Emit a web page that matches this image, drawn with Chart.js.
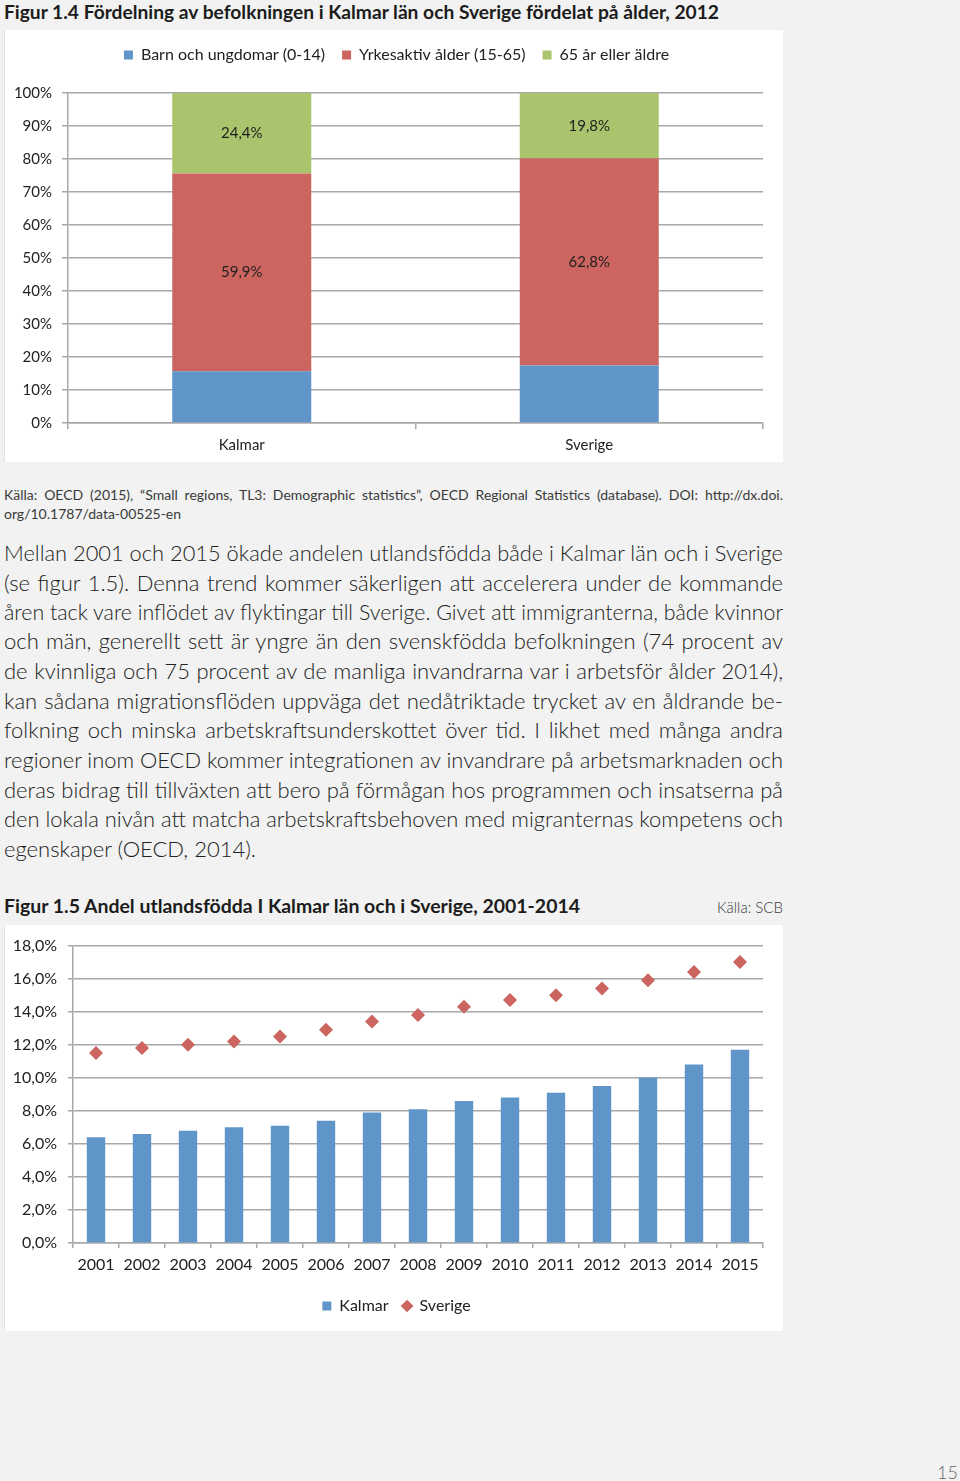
<!DOCTYPE html>
<html lang="sv">
<head>
<meta charset="utf-8">
<title>Figur 1.4 och 1.5 – Kalmar län</title>
<script src="https://cdn.jsdelivr.net/npm/chart.js@4.4.1/dist/chart.umd.min.js"></script>
<style>
  html, body { margin: 0; padding: 0; }
  body {
    width: 960px; height: 1481px; position: relative; overflow: hidden;
    background: #f1f2f1; color: #222;
    font-family: Lato, "Open Sans", sans-serif;
  }
  .abs { position: absolute; }
  .fit { white-space: nowrap; display: inline-block; transform-origin: 0 50%; }
  .title { left: 4px; font-weight: 700; font-size: 19px; line-height: 24px; color: #1c1c1c; }
  .panel { position: absolute; left: 4px; width: 779px; background: #fff; box-shadow: inset 1px 0 0 #e2e2e2; }
  .panel canvas { position: absolute; left: 0; top: 0; }
  .src { left: 4px; font-size: 14px; line-height: 19px; font-weight: 400; color: #3a3a3a; }
  .pline { left: 4px; font-size: 22px; line-height: 30px; font-weight: 300; color: #222; }
</style>
</head>
<body>

<div class="abs title" style="top:0px"><span class="fit" data-w="715">Figur 1.4 Fördelning av befolkningen i Kalmar län och Sverige fördelat på ålder, 2012</span></div>

<div class="panel" style="top:30px; height:432px;">
  <canvas id="ageChart" width="779" height="432"></canvas>
</div>

<div class="abs src" style="top:485px"><span class="fit" data-w="779" data-justify="1">Källa: OECD (2015), “Small regions, TL3: Demographic statistics”, OECD Regional Statistics (database). DOI: http://dx.doi.</span></div>
<div class="abs src" style="top:504px"><span class="fit">org/10.1787/data-00525-en</span></div>

<div class="abs pline" style="top:538px"><span class="fit" data-w="779" data-justify="1">Mellan 2001 och 2015 ökade andelen utlandsfödda både i Kalmar län och i Sverige</span></div>
<div class="abs pline" style="top:568px"><span class="fit" data-w="779" data-justify="1">(se figur 1.5). Denna trend kommer säkerligen att accelerera under de kommande</span></div>
<div class="abs pline" style="top:597px"><span class="fit" data-w="779" data-justify="1">åren tack vare inflödet av flyktingar till Sverige. Givet att immigranterna, både kvinnor</span></div>
<div class="abs pline" style="top:626px"><span class="fit" data-w="779" data-justify="1">och män, generellt sett är yngre än den svenskfödda befolkningen (74 procent av</span></div>
<div class="abs pline" style="top:656px"><span class="fit" data-w="779" data-justify="1">de kvinnliga och 75 procent av de manliga invandrarna var i arbetsför ålder 2014),</span></div>
<div class="abs pline" style="top:686px"><span class="fit" data-w="779" data-justify="1">kan sådana migrationsflöden uppväga det nedåtriktade trycket av en åldrande be-</span></div>
<div class="abs pline" style="top:715px"><span class="fit" data-w="779" data-justify="1">folkning och minska arbetskraftsunderskottet över tid. I likhet med många andra</span></div>
<div class="abs pline" style="top:745px"><span class="fit" data-w="779" data-justify="1">regioner inom OECD kommer integrationen av invandrare på arbetsmarknaden och</span></div>
<div class="abs pline" style="top:775px"><span class="fit" data-w="779" data-justify="1">deras bidrag till tillväxten att bero på förmågan hos programmen och insatserna på</span></div>
<div class="abs pline" style="top:804px"><span class="fit" data-w="779" data-justify="1">den lokala nivån att matcha arbetskraftsbehoven med migranternas kompetens och</span></div>
<div class="abs pline" style="top:834px"><span class="fit">egenskaper (OECD, 2014).</span></div>

<div class="abs title" style="top:894px"><span class="fit" data-w="576">Figur 1.5 Andel utlandsfödda I Kalmar län och i Sverige, 2001-2014</span></div>
<div class="abs src" style="top:898px; left:auto; right:177px; font-size:15px; font-weight:300;">Källa: SCB</div>

<div class="panel" style="top:925px; height:406px;">
  <canvas id="foreignChart" width="779" height="406"></canvas>
</div>

<div class="abs" style="top:1460px; right:2px; font-size:18px; line-height:24px; font-weight:300; color:#666;">15</div>

<script>
// Figur 1.4 – population by age group (percent of total)
const ageCategories = ['Kalmar', 'Sverige'];
const ageGroupNames = ['Barn och ungdomar (0-14)', 'Yrkesaktiv ålder (15-65)', '65 år eller äldre'];
const youngShare = [15.7, 17.4];
const workingShare = [59.9, 62.8];
const elderlyShare = [24.4, 19.8];
const ageTicks = [0, 10, 20, 30, 40, 50, 60, 70, 80, 90, 100];

// Figur 1.5 – share of foreign born (percent)
const years = ['2001', '2002', '2003', '2004', '2005', '2006', '2007', '2008',
               '2009', '2010', '2011', '2012', '2013', '2014', '2015'];
const kalmarForeignBorn = [6.4, 6.6, 6.8, 7.0, 7.1, 7.4, 7.9, 8.1, 8.6, 8.8, 9.1, 9.5, 10.0, 10.8, 11.7];
const swedenForeignBorn = [11.5, 11.8, 12.0, 12.2, 12.5, 12.9, 13.4, 13.8, 14.3, 14.7, 15.0, 15.4, 15.9, 16.4, 17.0];
const foreignTicks = [0, 2, 4, 6, 8, 10, 12, 14, 16, 18];

const BLUE = '#5f95c9';
const RED = '#cc6560';
const GREEN = '#a9c46c';
const GRID = '#a8a8a8';
const TEXT = '#222';

Chart.defaults.font.family = 'Lato, "Open Sans", sans-serif';
Chart.defaults.color = TEXT;

function comma(v, digits) {
    return v.toFixed(digits).replace('.', ',');
}

// extra room under/over the legend and a small sideways nudge
function legendTweak(extraHeight, dx) {
    return {
        id: 'legendTweak',
        beforeInit(chart) {
            const fit = chart.legend.fit;
            chart.legend.fit = function () {
                fit.bind(chart.legend)();
                this.height += extraHeight;
            };
        },
        afterLayout(chart) {
            chart.legend.left += dx;
            chart.legend.right += dx;
        }
    };
}

const segmentLabels = {
    id: 'segmentLabels',
    afterDatasetsDraw(chart) {
        const ctx = chart.ctx;
        ctx.save();
        ctx.font = '15px Lato, "Open Sans", sans-serif';
        ctx.fillStyle = '#1f1f1f';
        ctx.textAlign = 'center';
        ctx.textBaseline = 'middle';
        [1, 2].forEach(di => {
            chart.getDatasetMeta(di).data.forEach((bar, i) => {
                const v = chart.data.datasets[di].data[i];
                ctx.fillText(comma(v, 1) + '%', bar.x, (bar.y + bar.base) / 2);
            });
        });
        ctx.restore();
    }
};

function renderAgeChart() {
    const ctx = document.getElementById('ageChart');
    new Chart(ctx, {
        type: 'bar',
        data: {
            labels: ageCategories,
            datasets: [
                { label: ageGroupNames[0], data: youngShare, backgroundColor: BLUE },
                { label: ageGroupNames[1], data: workingShare, backgroundColor: RED },
                { label: ageGroupNames[2], data: elderlyShare, backgroundColor: GREEN }
            ]
        },
        options: {
            responsive: false,
            animation: false,
            events: [],
            datasets: { bar: { categoryPercentage: 1, barPercentage: 0.4 } },
            layout: { padding: { left: 0, right: 20, top: 0, bottom: 0 } },
            plugins: {
                tooltip: { enabled: false },
                legend: {
                    position: 'top',
                    labels: { boxWidth: 9, boxHeight: 9, padding: 17, font: { size: 16 }, color: TEXT }
                }
            },
            scales: {
                x: {
                    stacked: true,
                    afterFit: s => { s.height = 39; },
                    grid: { display: true, drawOnChartArea: false, drawTicks: true, tickLength: 6, color: GRID, lineWidth: 1.5, offset: true },
                    border: { color: GRID, width: 1.5 },
                    ticks: { padding: 7, font: { size: 15 }, color: TEXT }
                },
                y: {
                    stacked: true,
                    min: 0, max: 100,
                    afterFit: s => { s.width = 64; },
                    afterBuildTicks: s => { s.ticks = ageTicks.map(v => ({ value: v })); },
                    grid: { color: GRID, lineWidth: 1.5, tickLength: 6 },
                    border: { color: GRID, width: 1.5 },
                    ticks: { padding: 10, font: { size: 15 }, color: TEXT, callback: v => v + '%' }
                }
            }
        },
        plugins: [legendTweak(20, 13), segmentLabels]
    });
}

function renderForeignChart() {
    const ctx = document.getElementById('foreignChart');
    new Chart(ctx, {
        type: 'bar',
        data: {
            labels: years,
            datasets: [
                {
                    label: 'Kalmar', data: kalmarForeignBorn, backgroundColor: BLUE,
                    categoryPercentage: 1, barPercentage: 0.4, pointStyle: 'rect', order: 2
                },
                {
                    type: 'line', label: 'Sverige', data: swedenForeignBorn,
                    showLine: false, pointStyle: 'rectRot', pointRadius: 7,
                    backgroundColor: RED, borderColor: RED, borderWidth: 0, order: 1
                }
            ]
        },
        options: {
            responsive: false,
            animation: false,
            events: [],
            layout: { padding: { left: 0, right: 20, top: 18, bottom: 7 } },
            plugins: {
                tooltip: { enabled: false },
                legend: {
                    position: 'bottom',
                    labels: {
                        usePointStyle: true, boxWidth: 9, boxHeight: 9, padding: 14,
                        font: { size: 16 }, color: TEXT,
                        sort: (a, b) => a.datasetIndex - b.datasetIndex
                    }
                }
            },
            scales: {
                x: {
                    afterFit: s => { s.height = 41; },
                    grid: { display: true, drawOnChartArea: false, drawTicks: true, tickLength: 5, color: GRID, lineWidth: 1.5, offset: true },
                    border: { color: GRID, width: 1.5 },
                    ticks: { padding: 7, font: { size: 16 }, color: TEXT }
                },
                y: {
                    min: 0, max: 18,
                    afterFit: s => { s.width = 69; },
                    afterBuildTicks: s => { s.ticks = foreignTicks.map(v => ({ value: v })); },
                    grid: { color: GRID, lineWidth: 1.5, tickLength: 5 },
                    border: { color: GRID, width: 1.5 },
                    ticks: { padding: 11, font: { size: 16 }, color: TEXT, callback: v => comma(v, 1) + '%' }
                }
            }
        },
        plugins: [legendTweak(0, 13)]
    });
}

// stretch or squeeze each text line to the width it has on the page
function fitLines() {
    document.querySelectorAll('.fit[data-w]').forEach(el => {
        const target = +el.dataset.w;
        const w = el.getBoundingClientRect().width;
        if (el.dataset.justify && w < target) {
            const spaces = (el.textContent.match(/ /g) || []).length;
            if (spaces) el.style.wordSpacing = ((target - w) / spaces) + 'px';
        } else {
            el.style.transform = 'scaleX(' + (target / w) + ')';
        }
    });
}

document.addEventListener('DOMContentLoaded', () => {
    renderAgeChart();
    renderForeignChart();
    document.fonts.ready.then(fitLines);
});
</script>
</body>
</html>
